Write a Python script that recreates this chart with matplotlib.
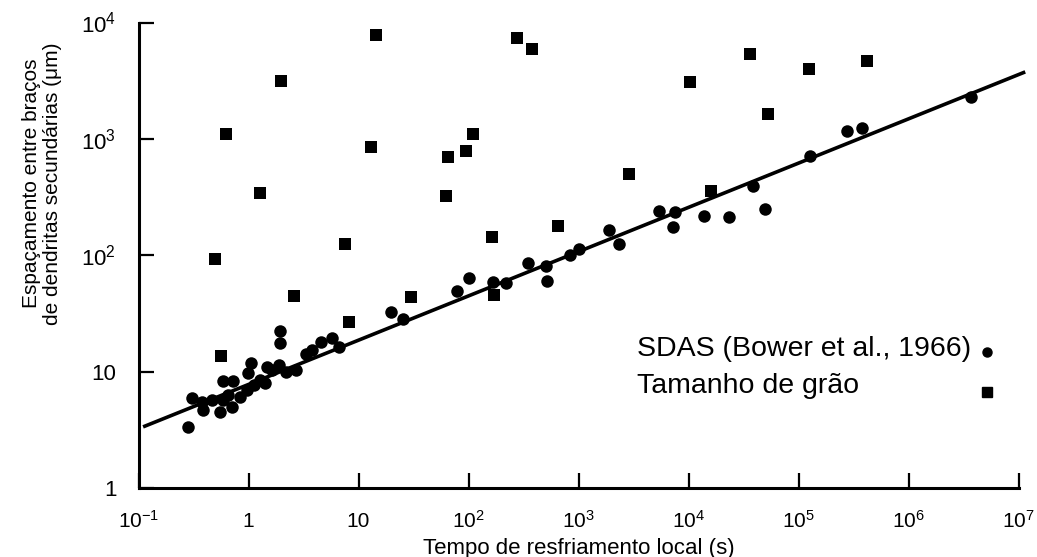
import matplotlib
matplotlib.use("Agg")
import matplotlib.pyplot as plt
from matplotlib.ticker import FixedLocator, FixedFormatter, NullLocator

plt.rcParams['font.family'] = ['Liberation Sans', 'DejaVu Sans']
plt.rcParams['mathtext.fontset'] = 'custom'
plt.rcParams['mathtext.rm'] = 'Liberation Sans'
plt.rcParams['mathtext.it'] = 'Liberation Sans'
plt.rcParams['mathtext.bf'] = 'Liberation Sans'

# ---- data ----
sdas_t = [0.281, 0.305, 0.376, 0.384, 0.463, 0.547, 0.582, 0.702, 0.646, 0.582,
          0.717, 0.830, 0.96, 1.13, 1.26, 1.40, 1.06, 0.98, 1.46, 1.65,
          1.91, 2.21, 1.95, 1.95, 2.72, 3.35, 3.80, 4.58, 5.76, 6.66,
          19.7, 25.3, 77.8, 100, 168, 221, 349, 508, 519, 838,
          1010, 1890, 2330, 5350, 7470, 7170, 13950, 23500, 38700, 49800,
          127000, 275000, 376000, 3.7e6]
sdas_d = [3.37, 5.98, 5.53, 4.72, 5.75, 4.54, 5.75, 5.01, 6.35, 8.37,
          8.37, 6.10, 7.0, 7.73, 8.53, 8.05, 11.9, 9.8, 11.0, 10.4,
          11.5, 10.0, 17.7, 22.5, 10.4, 14.3, 15.4, 18.1, 19.6, 16.4,
          32.7, 28.5, 49.6, 64.1, 59.3, 58.1, 86.3, 81.3, 60.4, 101,
          114, 165, 126, 241, 236, 176, 218, 214, 395, 251,
          715, 1160, 1255, 2295]

grain_t = [0.50, 0.62, 0.56, 1.28, 1.98, 2.6, 7.5, 14.4, 12.9, 8.2,
           30, 63, 65, 94, 109, 163, 171, 276, 380, 652,
           2900, 10400, 16100, 36400, 52400, 124000, 417000]
grain_d = [93, 1100, 13.7, 346, 3160, 45, 125, 7800, 853, 26.9,
           44, 324, 694, 789, 1100, 144, 46, 7400, 5930, 179,
           501, 3080, 358, 5370, 1640, 3990, 4670]

fit_t = [0.11, 1.15e7]
fit_d = [3.38, 3767]

x_ticks = [1e-1, 1, 10, 1e2, 1e3, 1e4, 1e5, 1e6, 1e7]
x_labels = ['$10^{-1}$', '1', '10', '$10^{2}$', '$10^{3}$', '$10^{4}$',
            '$10^{5}$', '$10^{6}$', '$10^{7}$']
y_ticks = [1, 10, 1e2, 1e3, 1e4]
y_labels = ['1', '10', '$10^{2}$', '$10^{3}$', '$10^{4}$']

legend_labels = ['SDAS (Bower et al., 1966)', 'Tamanho de grão']
x_title = 'Tempo de resfriamento local (s)'
y_title = 'Espaçamento entre braços\nde dendritas secundárias (μm)'

# ---- figure ----
fig = plt.figure(figsize=(10.37, 5.57), dpi=100)
ax = fig.add_axes([0.1336, 0.123, 0.8486, 0.8366])
ax.set_xscale('log')
ax.set_yscale('log')
ax.set_xlim(0.1, 1e7)
ax.set_ylim(1, 1e4)

ax.plot(fit_t, fit_d, color='black', lw=2.6, solid_capstyle='butt', zorder=2,
        clip_on=False)
ax.plot(sdas_t, sdas_d, 'o', ms=9.0, mfc='black', mec='black', mew=0, zorder=3,
        clip_on=False)
ax.plot(grain_t, grain_d, 's', ms=9.2, mfc='black', mec='black', mew=0, zorder=3,
        clip_on=False)

for s in ['top', 'right']:
    ax.spines[s].set_visible(False)
for s in ['left', 'bottom']:
    ax.spines[s].set_linewidth(2.2)

ax.xaxis.set_major_locator(FixedLocator(x_ticks))
ax.xaxis.set_major_formatter(FixedFormatter(x_labels))
ax.yaxis.set_major_locator(FixedLocator(y_ticks))
ax.yaxis.set_major_formatter(FixedFormatter(y_labels))
ax.xaxis.set_minor_locator(NullLocator())
ax.yaxis.set_minor_locator(NullLocator())
ax.tick_params(axis='both', which='major', direction='in', length=11, width=1.6,
               colors='black')
ax.tick_params(axis='x', pad=28, labelsize=15)
ax.tick_params(axis='y', pad=16, labelsize=16)
for lbl in ax.get_xticklabels():
    lbl.set_verticalalignment('baseline')

ax.set_xlabel(x_title, fontsize=16)
ax.xaxis.label.set_verticalalignment('center')
ax.xaxis.set_label_coords(0.5, -0.128)

ax.set_ylabel(y_title, fontsize=15, linespacing=1.15)
ax.yaxis.set_label_coords(-0.087, 0.655)

# legend (text on the left, marker on the right)
ax.text(0.566, 0.300, legend_labels[0], transform=ax.transAxes, fontsize=20.5,
        va='center', ha='left')
ax.text(0.566, 0.220, legend_labels[1], transform=ax.transAxes, fontsize=20.5,
        va='center', ha='left')
ax.plot([0.964], [0.293], 'o', ms=6.5, color='black', transform=ax.transAxes,
        clip_on=False)
ax.plot([0.964], [0.207], 's', ms=6.5, color='black', transform=ax.transAxes,
        clip_on=False)

fig.savefig('out.png', dpi=100)
